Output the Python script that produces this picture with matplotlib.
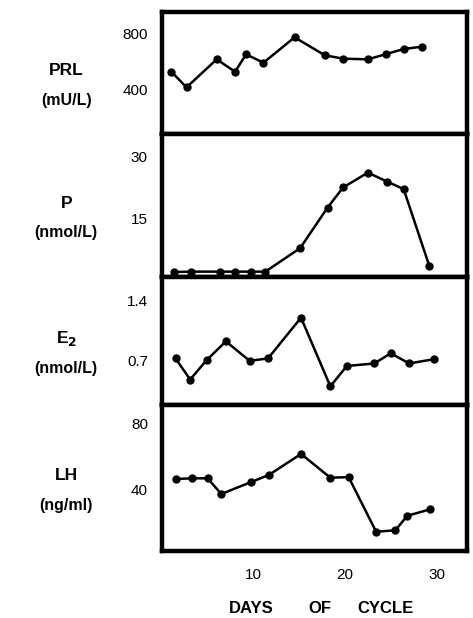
import matplotlib
matplotlib.use('Agg')
import matplotlib.pyplot as plt

plt.rcParams['font.family'] = ['Liberation Sans', 'DejaVu Sans']

# days of cycle for each hormone series
prl_days = [1.05, 2.7, 6.0, 8.0, 9.2, 11.1, 14.5, 17.8, 19.8, 22.5, 24.5, 26.4, 28.4]
prl_vals = [524, 412, 613, 524, 649, 589, 771, 642, 618, 613, 651, 687, 704]

p_days = [1.3, 3.2, 6.4, 8.0, 9.7, 11.3, 15.1, 18.1, 19.8, 22.5, 24.6, 26.4, 29.2]
p_vals = [1.9, 2.0, 2.0, 2.0, 2.0, 2.0, 7.7, 17.6, 22.5, 26.1, 23.9, 22.1, 3.4]

e2_days = [1.5, 3.1, 4.9, 7.0, 9.6, 11.6, 15.2, 18.4, 20.2, 23.2, 25.0, 27.0, 29.7]
e2_vals = [0.72, 0.47, 0.70, 0.92, 0.69, 0.72, 1.20, 0.39, 0.63, 0.66, 0.78, 0.66, 0.71]

lh_days = [1.6, 3.3, 5.0, 6.5, 9.7, 11.7, 15.2, 18.4, 20.4, 23.4, 25.5, 26.8, 29.3]
lh_vals = [46.3, 46.7, 46.7, 37.1, 44.3, 48.8, 61.6, 47.1, 47.4, 14.0, 14.9, 23.8, 27.7]

x_ticks = [10, 20, 30]

fig = plt.figure(figsize=(4.73, 6.18), dpi=100)

# panel layout: (bottom, top) in figure fraction
left, right = 0.342, 0.987
panels = [
    (prl_days, prl_vals, (77, 953), [400, 800], ['400', '800'], 'PRL', '(mU/L)', 0.7832, 0.9806),
    (p_days, p_vals, (0.7, 35.5), [15, 30], ['15', '30'], 'P', '(nmol/L)', 0.5518, 0.7832),
    (e2_days, e2_vals, (0.17, 1.68), [0.7, 1.4], ['0.7', '1.4'], 'E$_\\mathbf{2}$', '(nmol/L)', 0.3447, 0.5518),
    (lh_days, lh_vals, (2.2, 91.6), [40, 80], ['40', '80'], 'LH', '(ng/ml)', 0.1084, 0.3447),
]

for i, (days, vals, ylim, yt, ytl, name, unit, bot, top) in enumerate(panels):
    ax = fig.add_axes([left, bot, right - left, top - bot])
    ax.plot(days, vals, color='black', lw=1.8, marker='o', ms=5)
    ax.set_xlim(0, 33.3)
    ax.set_ylim(*ylim)
    ax.set_yticks(yt)
    ax.set_yticklabels(ytl, fontsize=11)
    ax.tick_params(axis='y', length=0, pad=10)
    for s in ax.spines.values():
        s.set_linewidth(3.2)
    if i < 3:
        ax.set_xticks([])
    else:
        ax.set_xticks(x_ticks)
        ax.set_xticklabels([str(t) for t in x_ticks], fontsize=11)
        ax.tick_params(axis='x', length=0, pad=12)
    # hormone name and units to the left
    mid = (bot + top) / 2
    fig.text(0.14, mid + 0.004, name, ha='center', va='center', fontsize=12.5, fontweight='bold')
    fig.text(0.14, mid - 0.044, unit, ha='center', va='center', fontsize=11.5, fontweight='bold')

# axis title, words spread apart as in the original
for word, xpos in [('DAYS', 0.531), ('OF', 0.677), ('CYCLE', 0.814)]:
    fig.text(xpos, 0.0146, word, ha='center', va='center', fontsize=12, fontweight='bold')

fig.savefig('out.png', dpi=100)
